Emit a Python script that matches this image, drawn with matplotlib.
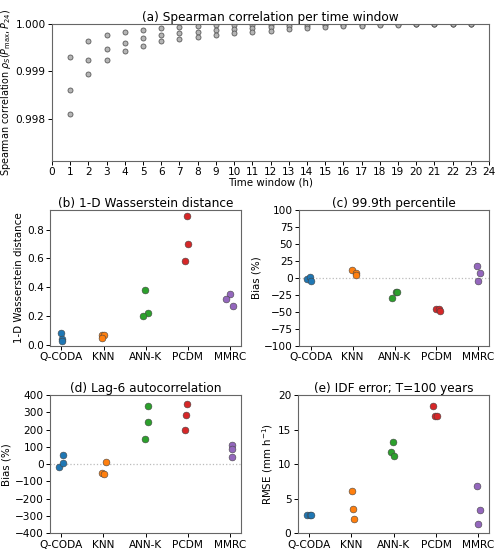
import matplotlib
matplotlib.use("Agg")
import matplotlib.pyplot as plt
import numpy as np

# ---------------- data ----------------
windows = list(range(1, 24))
rho_high = [0.99931, 0.99964, 0.99976, 0.99983, 0.99987, 0.99991, 0.99993, 0.99995, 0.99997,
            0.99998, 0.99998, 0.99998, 0.99999, 0.99999, 0.99999, 1.0, 1.0, 1.0, 1.0, 1.0, 1.0, 1.0, 1.0]
rho_mid = [0.99860, 0.99924, 0.99947, 0.99961, 0.99970, 0.99977, 0.99981, 0.99984, 0.99987,
           0.99990, 0.99992, 0.99993, 0.99995, 0.99996, 0.99997, 0.99998, 0.99998, 0.99999, 0.99999,
           1.0, 1.0, 1.0, 1.0]
rho_low = [0.99811, 0.99894, 0.99925, 0.99943, 0.99953, 0.99965, 0.99968, 0.99973, 0.99977,
           0.99981, 0.99984, 0.99986, 0.99989, 0.99991, 0.99993, 0.99995, 0.99996, 0.99997, 0.99998,
           0.99999, 0.99999, 1.0, 1.0]

methods = ["Q-CODA", "KNN", "ANN-K", "PCDM", "MMRC"]
colors = ["#1f77b4", "#ff7f0e", "#2ca02c", "#d62728", "#9467bd"]

wasserstein = [[0.085, 0.041, 0.031], [0.073, 0.071, 0.053], [0.383, 0.225, 0.199],
               [0.891, 0.701, 0.582], [0.353, 0.321, 0.273]]
wasserstein_jit = [[-0.02, 0.01, 0.02], [-0.04, 0.02, -0.03], [-0.01, 0.05, -0.06],
                   [-0.01, 0.01, -0.07], [0.01, -0.09, 0.06]]

p999_bias = [[-1, 2, -5], [12, 8, 5], [-30, -21, -21], [-46, -45, -49], [17, 7, -5]]
p999_jit = [[-0.09, -0.02, 0.0], [-0.01, 0.09, 0.09], [-0.05, 0.03, 0.07],
            [0.0, 0.06, 0.08], [-0.03, 0.04, 0.0]]

lag6_bias = [[-18, 54, 9], [-51, -56, 10], [337, 246, 144], [347, 283, 195], [109, 86, 39]]
lag6_jit = [[-0.05, 0.05, 0.05], [-0.04, 0.02, 0.07], [0.05, 0.06, -0.02],
            [-0.02, -0.04, -0.06], [0.05, 0.06, 0.05]]

idf_rmse = [[2.6, 2.6, 2.6], [6.1, 3.5, 2.1], [11.8, 13.2, 11.2], [18.4, 16.9, 16.9], [6.9, 3.3, 1.35]]
idf_jit = [[-0.06, 0.03, 0.04], [0.01, 0.04, 0.07], [-0.07, -0.01, 0.0],
           [-0.08, -0.03, 0.03], [-0.02, 0.04, 0.0]]

# ---------------- figure ----------------
plt.rcParams["font.family"] = "DejaVu Sans"
FS_TICK = 7.6
FS_LAB = 7.4
FS_TITLE = 8.7
fig = plt.figure(figsize=(5.0, 5.52), dpi=100)

SPINE = "#666666"


def style(ax):
    for s in ax.spines.values():
        s.set_color(SPINE)
        s.set_linewidth(0.8)
    ax.tick_params(labelsize=FS_TICK, length=3, width=0.7, pad=1.5)


# (a)
axa = fig.add_axes([0.104, 0.708, 0.874, 0.2485])
for series in (rho_high, rho_mid, rho_low):
    axa.plot(windows, series, "o", ms=3.6, mfc="#b5b5b5", mec="#5a5a5a", mew=0.6, ls="none")
axa.set_xlim(0, 24)
axa.set_xticks(range(0, 25))
axa.set_ylim(0.99711, 1.0)
axa.set_yticks([0.998, 0.999, 1.000])
axa.set_yticklabels(["0.998", "0.999", "1.000"])
axa.set_title("(a) Spearman correlation per time window", fontsize=FS_TITLE, pad=2)
axa.set_xlabel("Time window (h)", fontsize=FS_LAB, labelpad=0)
axa.set_ylabel(r"Spearman correlation $\rho_S(P_{\max}, P_{24})$", fontsize=6.9, labelpad=2)
style(axa)

boxes = {
    "b": [0.100, 0.3732, 0.382, 0.2464],
    "c": [0.5986, 0.3732, 0.380, 0.2464],
    "d": [0.100, 0.0339, 0.3814, 0.2505],
    "e": [0.5954, 0.0339, 0.3832, 0.2505],
}


def strip(ax, vals, jit):
    for i, (v, j) in enumerate(zip(vals, jit)):
        xs = [i + d for d in j]
        ax.scatter(xs, v, s=24, color=colors[i], edgecolors="#444444", linewidths=0.4, zorder=3)
    ax.set_xticks(range(len(methods)))
    ax.set_xticklabels(methods)
    ax.set_xlim(-0.27, 4.26)
    style(ax)


axb = fig.add_axes(boxes["b"])
strip(axb, wasserstein, wasserstein_jit)
axb.set_ylim(-0.005, 0.935)
axb.set_yticks([0.0, 0.2, 0.4, 0.6, 0.8])
axb.set_title("(b) 1-D Wasserstein distance", fontsize=FS_TITLE, pad=2)
axb.set_ylabel("1-D Wasserstein distance", fontsize=FS_LAB, labelpad=2)

axc = fig.add_axes(boxes["c"])
axc.axhline(0, color="#bbbbbb", ls=":", lw=0.9, zorder=1)
strip(axc, p999_bias, p999_jit)
axc.set_ylim(-100, 100)
axc.set_yticks(range(-100, 101, 25))
axc.set_title("(c) 99.9th percentile", fontsize=FS_TITLE, pad=2)
axc.set_ylabel("Bias (%)", fontsize=FS_LAB, labelpad=2)

axd = fig.add_axes(boxes["d"])
axd.axhline(0, color="#bbbbbb", ls=":", lw=0.9, zorder=1)
strip(axd, lag6_bias, lag6_jit)
axd.set_ylim(-400, 400)
axd.set_yticks(range(-400, 401, 100))
axd.set_title("(d) Lag-6 autocorrelation", fontsize=FS_TITLE, pad=2)
axd.set_ylabel("Bias (%)", fontsize=FS_LAB, labelpad=2)

axe = fig.add_axes(boxes["e"])
strip(axe, idf_rmse, idf_jit)
axe.set_ylim(0, 20)
axe.set_yticks([0, 5, 10, 15, 20])
axe.set_title("(e) IDF error; T=100 years", fontsize=FS_TITLE, pad=2)
axe.set_ylabel(r"RMSE (mm h$^{-1}$)", fontsize=FS_LAB, labelpad=2)

fig.savefig("out.png", dpi=100)
